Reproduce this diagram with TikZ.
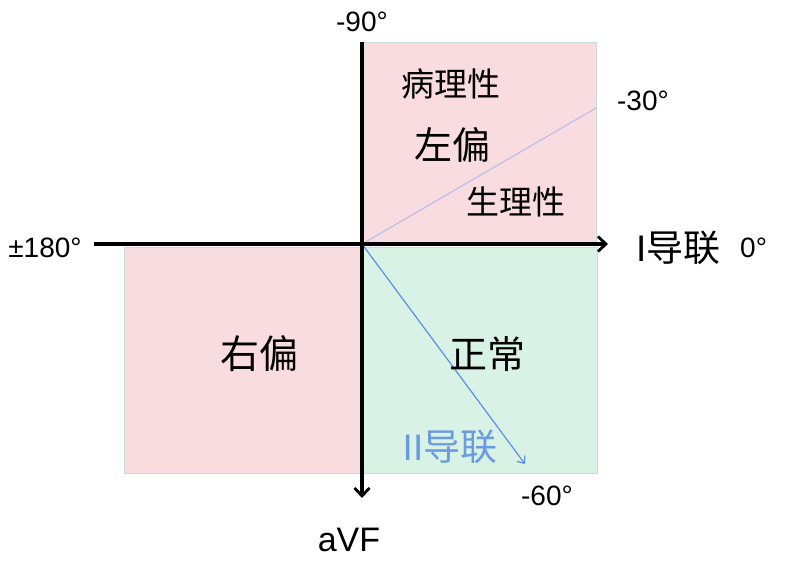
\documentclass[tikz,border=0pt]{standalone}
\usepackage{fontspec}
\setmainfont{Liberation Sans}
\newfontfamily\cjk{Noto Sans CJK SC}
\usetikzlibrary{arrows.meta}
\definecolor{pinkfill}{HTML}{F9DCE0}
\definecolor{greenfill}{HTML}{D9F2E6}
\definecolor{boxedge}{HTML}{C8DCD2}
\definecolor{lightblue}{HTML}{AEBDEA}
\definecolor{leadblue}{HTML}{5B8FE6}
\definecolor{leadtext}{HTML}{6A9AE0}
\tikzset{
  region/.style={draw=boxedge, line width=1pt},
  axis/.style={line width=3.2pt, -{Straight Barb[length=8pt,width=15pt,line width=2.8pt]}},
  lbl/.style={inner sep=0pt, font=\fontsize{28}{28}\selectfont},
  zh/.style={inner sep=0pt},
}
\begin{document}
\begin{tikzpicture}[x=1pt,y=-1pt]
\useasboundingbox (0,0) rectangle (792,567);
\fill[white] (0,0) rectangle (792,567);
% regions
\filldraw[region, fill=pinkfill] (362,43) rectangle (596,244);
\filldraw[region, fill=greenfill] (362,247) rectangle (597,473);
\filldraw[region, fill=pinkfill] (124,247) rectangle (360,473);
% coordinates
\coordinate (O) at (362,244);
\coordinate (W) at (94,244);
\coordinate (E) at (608,244);
\coordinate (N) at (362,42);
\coordinate (S) at (362,498);
\coordinate (M30) at (596,108);
\coordinate (M60) at (525,464);
% lines
\draw[lightblue, line width=1pt] (O) -- (M30);
\draw[leadblue, line width=1.2pt, -{Straight Barb[length=6pt,width=10pt,line width=1.2pt]}] (O) -- (M60);
\draw[axis] (W) -- (E);
\draw[axis] (N) -- (S);
% labels
\node[lbl] (l90) at (362,22) {-90°};
\node[lbl] (l180) at (45,248) {±180°};
\node[lbl, anchor=west] (l0) at (740,248) {0°};
\node[lbl] (l30) at (643,101) {-30°};
\node[lbl] (l60) at (547,496) {-60°};
\node[inner sep=0pt, font=\fontsize{34}{34}\selectfont] (avf) at (349,540) {aVF};
\node[inner sep=0pt, anchor=west, font=\fontsize{37}{37}\selectfont] (lead1) at (636,248) {I{\cjk 导联}};
\node[zh, font=\cjk\fontsize{33}{33}\selectfont] (bl) at (451,84) {病理性};
\node[zh, font=\cjk\fontsize{38}{38}\selectfont] (zp) at (452,145) {左偏};
\node[zh, font=\cjk\fontsize{33}{33}\selectfont] (sl) at (516,202) {生理性};
\node[zh, font=\cjk\fontsize{39}{39}\selectfont] (yp) at (259,354) {右偏};
\node[zh, font=\cjk\fontsize{38}{38}\selectfont] (zc) at (487,354) {正常};
\node[inner sep=0pt, text=leadtext, font=\fontsize{37}{37}\selectfont] (lead2) at (450,447) {II{\cjk 导联}};
\end{tikzpicture}
\end{document}
